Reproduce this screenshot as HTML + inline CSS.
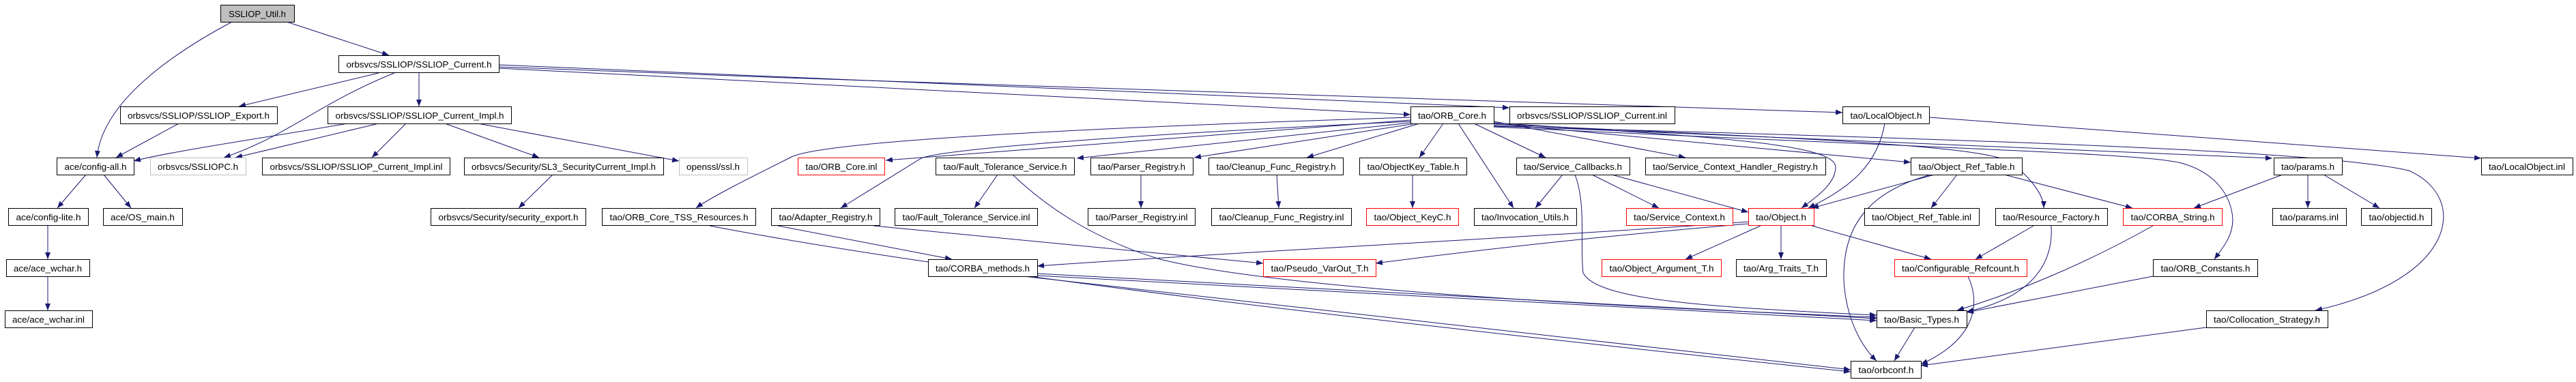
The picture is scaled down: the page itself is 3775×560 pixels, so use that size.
<!DOCTYPE html>
<html><head><meta charset="utf-8"><style>
html,body{margin:0;padding:0;background:#fff;}
svg{display:block;}
text{font-family:"Liberation Sans",sans-serif;font-size:13px;fill:#000;}
</style></head><body>
<svg width="3775" height="560" viewBox="0 0 3775 560" xmlns="http://www.w3.org/2000/svg">
<defs>
<marker id="a" markerUnits="userSpaceOnUse" markerWidth="11" markerHeight="8" refX="10" refY="4" orient="auto">
<path d="M0,0 L10,4 L0,8 z" fill="#191970"/>
</marker>
</defs>
<g fill="none" stroke="#191970" stroke-width="1" marker-end="url(#a)">
<path d="M340,32 C250,80 150,150 142,231"/>
<path d="M420,32 L570,81"/>
<path d="M555,107 L350,156"/>
<path d="M578,107 C470,150 420,200 328,231"/>
<path d="M614,107 L614,156"/>
<path d="M731,100 L2067,168"/>
<path d="M731,95 L2212,158"/>
<path d="M731,98 C1500,130 2400,150 2700,165"/>
<path d="M262,181 L170,231"/>
<path d="M510,181 C400,200 250,222 196,236"/>
<path d="M555,181 L345,231"/>
<path d="M595,181 L545,231"/>
<path d="M652,181 L790,231"/>
<path d="M700,181 L995,236"/>
<path d="M126,256 L84,305"/>
<path d="M152,256 L192,305"/>
<path d="M70,331 L70,380"/>
<path d="M70,405 L70,455"/>
<path d="M810,256 L760,305"/>
<path d="M2067,172 C1500,190 1200,210 1160,230 C1100,260 1040,290 1020,305"/>
<path d="M2067,176 L1298,235"/>
<path d="M2067,178 C1600,200 1380,220 1350,232 L1232,305"/>
<path d="M2067,180 L1578,232"/>
<path d="M2075,181 L1750,231"/>
<path d="M2080,181 L1915,231"/>
<path d="M2115,181 L2080,231"/>
<path d="M2137,181 L2218,305"/>
<path d="M2160,181 L2265,231"/>
<path d="M2189,178 L2470,231"/>
<path d="M2189,180 C2500,200 2690,210 2690,245 C2690,270 2660,290 2640,305"/>
<path d="M2189,181 L2800,238"/>
<path d="M2189,182 C2700,205 2920,215 2950,240 C2985,270 2995,290 2995,305"/>
<path d="M2189,184 L3330,232"/>
<path d="M2189,186 C2900,220 3150,225 3200,240 C3250,255 3270,290 3272,321 C3272,345 3260,360 3245,380"/>
<path d="M2189,185 C2900,205 3400,220 3530,250 C3620,290 3600,410 3393,455"/>
<path d="M1140,331 L1395,380"/>
<path d="M1280,331 L1851,386"/>
<path d="M1462,256 L1428,305"/>
<path d="M1485,257 C1530,300 1600,350 1700,380 C1900,430 2500,455 2750,465"/>
<path d="M1672,256 L1672,305"/>
<path d="M1871,256 L1874,305"/>
<path d="M2070,256 L2070,305"/>
<path d="M2290,256 L2250,305"/>
<path d="M2333,256 L2431,305"/>
<path d="M2362,256 L2562,311"/>
<path d="M2308,256 C2325,300 2315,360 2320,400 C2340,440 2500,450 2750,462"/>
<path d="M2762,181 C2750,250 2700,280 2650,305"/>
<path d="M2827,172 L3636,232"/>
<path d="M2835,256 L2655,305"/>
<path d="M2868,256 L2830,305"/>
<path d="M2937,256 L3125,305"/>
<path d="M2830,256 C2740,280 2700,330 2702,410 C2705,470 2730,510 2750,529"/>
<path d="M2562,325 C2300,345 1800,370 1520,390"/>
<path d="M2562,328 C2300,350 2100,375 2016,386"/>
<path d="M2580,331 L2470,380"/>
<path d="M2610,331 L2610,380"/>
<path d="M2655,331 L2830,380"/>
<path d="M2980,331 L2895,380"/>
<path d="M3006,331 C3010,400 2960,440 2882,457"/>
<path d="M3155,331 C3050,390 2950,430 2868,455"/>
<path d="M3155,405 L2882,458"/>
<path d="M3345,256 L3215,305"/>
<path d="M3382,256 L3382,305"/>
<path d="M3405,256 L3487,305"/>
<path d="M1520,401 L2750,467"/>
<path d="M1520,404 L2750,470"/>
<path d="M1500,405 L2712,542"/>
<path d="M1040,331 C1400,400 2000,470 2712,545"/>
<path d="M2806,480 L2776,529"/>
<path d="M2884,405 C2905,450 2890,500 2815,534"/>
<path d="M3233,480 L2815,536"/>
</g>
<g stroke-width="1">
<rect x="323.5" y="7.5" width="108" height="25" fill="#bfbfbf" stroke="#000"/>
<text x="377" y="25" text-anchor="middle">SSLIOP_Util.h</text>
<rect x="496.5" y="81.5" width="235" height="25" fill="#fff" stroke="#000"/>
<text x="614" y="99" text-anchor="middle" textLength="213" lengthAdjust="spacingAndGlyphs">orbsvcs/SSLIOP/SSLIOP_Current.h</text>
<rect x="176.5" y="156.5" width="230" height="25" fill="#fff" stroke="#000"/>
<text x="291" y="174" text-anchor="middle" textLength="208" lengthAdjust="spacingAndGlyphs">orbsvcs/SSLIOP/SSLIOP_Export.h</text>
<rect x="480.5" y="156.5" width="269" height="25" fill="#fff" stroke="#000"/>
<text x="615" y="174" text-anchor="middle" textLength="247" lengthAdjust="spacingAndGlyphs">orbsvcs/SSLIOP/SSLIOP_Current_Impl.h</text>
<rect x="2067.5" y="156.5" width="122" height="25" fill="#fff" stroke="#000"/>
<text x="2128" y="174" text-anchor="middle" textLength="100" lengthAdjust="spacingAndGlyphs">tao/ORB_Core.h</text>
<rect x="2212.5" y="156.5" width="242" height="25" fill="#fff" stroke="#000"/>
<text x="2333" y="174" text-anchor="middle" textLength="220" lengthAdjust="spacingAndGlyphs">orbsvcs/SSLIOP/SSLIOP_Current.inl</text>
<rect x="2700.5" y="156.5" width="127" height="25" fill="#fff" stroke="#000"/>
<text x="2764" y="174" text-anchor="middle" textLength="105" lengthAdjust="spacingAndGlyphs">tao/LocalObject.h</text>
<rect x="83.5" y="231.5" width="113" height="25" fill="#fff" stroke="#000"/>
<text x="140" y="249" text-anchor="middle" textLength="91" lengthAdjust="spacingAndGlyphs">ace/config-all.h</text>
<rect x="220.5" y="231.5" width="140" height="25" fill="#fff" stroke="#bfbfbf"/>
<text x="290" y="249" text-anchor="middle" textLength="118" lengthAdjust="spacingAndGlyphs">orbsvcs/SSLIOPC.h</text>
<rect x="384.5" y="231.5" width="275" height="25" fill="#fff" stroke="#000"/>
<text x="522" y="249" text-anchor="middle" textLength="253" lengthAdjust="spacingAndGlyphs">orbsvcs/SSLIOP/SSLIOP_Current_Impl.inl</text>
<rect x="680.5" y="231.5" width="292" height="25" fill="#fff" stroke="#000"/>
<text x="826" y="249" text-anchor="middle" textLength="270" lengthAdjust="spacingAndGlyphs">orbsvcs/Security/SL3_SecurityCurrent_Impl.h</text>
<rect x="995.5" y="231.5" width="100" height="25" fill="#fff" stroke="#bfbfbf"/>
<text x="1045" y="249" text-anchor="middle" textLength="78" lengthAdjust="spacingAndGlyphs">openssl/ssl.h</text>
<rect x="1169.5" y="231.5" width="127" height="25" fill="#fff" stroke="#ff0000"/>
<text x="1233" y="249" text-anchor="middle" textLength="105" lengthAdjust="spacingAndGlyphs">tao/ORB_Core.inl</text>
<rect x="1371.5" y="231.5" width="203" height="25" fill="#fff" stroke="#000"/>
<text x="1473" y="249" text-anchor="middle" textLength="181" lengthAdjust="spacingAndGlyphs">tao/Fault_Tolerance_Service.h</text>
<rect x="1598.5" y="231.5" width="150" height="25" fill="#fff" stroke="#000"/>
<text x="1673" y="249" text-anchor="middle" textLength="128" lengthAdjust="spacingAndGlyphs">tao/Parser_Registry.h</text>
<rect x="1771.5" y="231.5" width="197" height="25" fill="#fff" stroke="#000"/>
<text x="1870" y="249" text-anchor="middle" textLength="175" lengthAdjust="spacingAndGlyphs">tao/Cleanup_Func_Registry.h</text>
<rect x="1992.5" y="231.5" width="157" height="25" fill="#fff" stroke="#000"/>
<text x="2071" y="249" text-anchor="middle" textLength="135" lengthAdjust="spacingAndGlyphs">tao/ObjectKey_Table.h</text>
<rect x="2222.5" y="231.5" width="166" height="25" fill="#fff" stroke="#000"/>
<text x="2305" y="249" text-anchor="middle" textLength="144" lengthAdjust="spacingAndGlyphs">tao/Service_Callbacks.h</text>
<rect x="2411.5" y="231.5" width="264" height="25" fill="#fff" stroke="#000"/>
<text x="2543" y="249" text-anchor="middle" textLength="242" lengthAdjust="spacingAndGlyphs">tao/Service_Context_Handler_Registry.h</text>
<rect x="2800.5" y="231.5" width="163" height="25" fill="#fff" stroke="#000"/>
<text x="2882" y="249" text-anchor="middle" textLength="141" lengthAdjust="spacingAndGlyphs">tao/Object_Ref_Table.h</text>
<rect x="3332.5" y="231.5" width="100" height="25" fill="#fff" stroke="#000"/>
<text x="3382" y="249" text-anchor="middle" textLength="78" lengthAdjust="spacingAndGlyphs">tao/params.h</text>
<rect x="3636.5" y="231.5" width="134" height="25" fill="#fff" stroke="#000"/>
<text x="3703" y="249" text-anchor="middle" textLength="112" lengthAdjust="spacingAndGlyphs">tao/LocalObject.inl</text>
<rect x="12.5" y="305.5" width="117" height="25" fill="#fff" stroke="#000"/>
<text x="71" y="323" text-anchor="middle" textLength="95" lengthAdjust="spacingAndGlyphs">ace/config-lite.h</text>
<rect x="151.5" y="305.5" width="116" height="25" fill="#fff" stroke="#000"/>
<text x="209" y="323" text-anchor="middle" textLength="94" lengthAdjust="spacingAndGlyphs">ace/OS_main.h</text>
<rect x="631.5" y="305.5" width="227" height="25" fill="#fff" stroke="#000"/>
<text x="745" y="323" text-anchor="middle" textLength="205" lengthAdjust="spacingAndGlyphs">orbsvcs/Security/security_export.h</text>
<rect x="882.5" y="305.5" width="225" height="25" fill="#fff" stroke="#000"/>
<text x="995" y="323" text-anchor="middle" textLength="203" lengthAdjust="spacingAndGlyphs">tao/ORB_Core_TSS_Resources.h</text>
<rect x="1130.5" y="305.5" width="159" height="25" fill="#fff" stroke="#000"/>
<text x="1210" y="323" text-anchor="middle" textLength="137" lengthAdjust="spacingAndGlyphs">tao/Adapter_Registry.h</text>
<rect x="1311.5" y="305.5" width="209" height="25" fill="#fff" stroke="#000"/>
<text x="1416" y="323" text-anchor="middle" textLength="187" lengthAdjust="spacingAndGlyphs">tao/Fault_Tolerance_Service.inl</text>
<rect x="1594.5" y="305.5" width="157" height="25" fill="#fff" stroke="#000"/>
<text x="1673" y="323" text-anchor="middle" textLength="135" lengthAdjust="spacingAndGlyphs">tao/Parser_Registry.inl</text>
<rect x="1775.5" y="305.5" width="205" height="25" fill="#fff" stroke="#000"/>
<text x="1878" y="323" text-anchor="middle" textLength="183" lengthAdjust="spacingAndGlyphs">tao/Cleanup_Func_Registry.inl</text>
<rect x="2002.5" y="305.5" width="135" height="25" fill="#fff" stroke="#ff0000"/>
<text x="2070" y="323" text-anchor="middle" textLength="113" lengthAdjust="spacingAndGlyphs">tao/Object_KeyC.h</text>
<rect x="2160.5" y="305.5" width="150" height="25" fill="#fff" stroke="#000"/>
<text x="2235" y="323" text-anchor="middle" textLength="128" lengthAdjust="spacingAndGlyphs">tao/Invocation_Utils.h</text>
<rect x="2383.5" y="305.5" width="156" height="25" fill="#fff" stroke="#ff0000"/>
<text x="2461" y="323" text-anchor="middle" textLength="134" lengthAdjust="spacingAndGlyphs">tao/Service_Context.h</text>
<rect x="2562.5" y="305.5" width="96" height="25" fill="#fff" stroke="#ff0000"/>
<text x="2610" y="323" text-anchor="middle" textLength="74" lengthAdjust="spacingAndGlyphs">tao/Object.h</text>
<rect x="2732.5" y="305.5" width="168" height="25" fill="#fff" stroke="#000"/>
<text x="2816" y="323" text-anchor="middle" textLength="146" lengthAdjust="spacingAndGlyphs">tao/Object_Ref_Table.inl</text>
<rect x="2924.5" y="305.5" width="164" height="25" fill="#fff" stroke="#000"/>
<text x="3006" y="323" text-anchor="middle" textLength="142" lengthAdjust="spacingAndGlyphs">tao/Resource_Factory.h</text>
<rect x="3111.5" y="305.5" width="145" height="25" fill="#fff" stroke="#ff0000"/>
<text x="3184" y="323" text-anchor="middle" textLength="123" lengthAdjust="spacingAndGlyphs">tao/CORBA_String.h</text>
<rect x="3330.5" y="305.5" width="108" height="25" fill="#fff" stroke="#000"/>
<text x="3384" y="323" text-anchor="middle" textLength="86" lengthAdjust="spacingAndGlyphs">tao/params.inl</text>
<rect x="3460.5" y="305.5" width="103" height="25" fill="#fff" stroke="#000"/>
<text x="3512" y="323" text-anchor="middle" textLength="81" lengthAdjust="spacingAndGlyphs">tao/objectid.h</text>
<rect x="9.5" y="380.5" width="122" height="25" fill="#fff" stroke="#000"/>
<text x="70" y="398" text-anchor="middle" textLength="100" lengthAdjust="spacingAndGlyphs">ace/ace_wchar.h</text>
<rect x="1360.5" y="380.5" width="160" height="25" fill="#fff" stroke="#000"/>
<text x="1440" y="398" text-anchor="middle" textLength="138" lengthAdjust="spacingAndGlyphs">tao/CORBA_methods.h</text>
<rect x="1851.5" y="380.5" width="165" height="25" fill="#fff" stroke="#ff0000"/>
<text x="1934" y="398" text-anchor="middle" textLength="143" lengthAdjust="spacingAndGlyphs">tao/Pseudo_VarOut_T.h</text>
<rect x="2347.5" y="380.5" width="175" height="25" fill="#fff" stroke="#ff0000"/>
<text x="2435" y="398" text-anchor="middle" textLength="153" lengthAdjust="spacingAndGlyphs">tao/Object_Argument_T.h</text>
<rect x="2544.5" y="380.5" width="132" height="25" fill="#fff" stroke="#000"/>
<text x="2610" y="398" text-anchor="middle" textLength="110" lengthAdjust="spacingAndGlyphs">tao/Arg_Traits_T.h</text>
<rect x="2776.5" y="380.5" width="194" height="25" fill="#fff" stroke="#ff0000"/>
<text x="2873" y="398" text-anchor="middle" textLength="172" lengthAdjust="spacingAndGlyphs">tao/Configurable_Refcount.h</text>
<rect x="3155.5" y="380.5" width="153" height="25" fill="#fff" stroke="#000"/>
<text x="3232" y="398" text-anchor="middle" textLength="131" lengthAdjust="spacingAndGlyphs">tao/ORB_Constants.h</text>
<rect x="7.5" y="455.5" width="128" height="25" fill="#fff" stroke="#000"/>
<text x="71" y="473" text-anchor="middle" textLength="106" lengthAdjust="spacingAndGlyphs">ace/ace_wchar.inl</text>
<rect x="2750.5" y="455.5" width="132" height="25" fill="#fff" stroke="#000"/>
<text x="2816" y="473" text-anchor="middle" textLength="110" lengthAdjust="spacingAndGlyphs">tao/Basic_Types.h</text>
<rect x="3233.5" y="455.5" width="178" height="25" fill="#fff" stroke="#000"/>
<text x="3322" y="473" text-anchor="middle" textLength="156" lengthAdjust="spacingAndGlyphs">tao/Collocation_Strategy.h</text>
<rect x="2712.5" y="529.5" width="103" height="25" fill="#fff" stroke="#000"/>
<text x="2764" y="547" text-anchor="middle" textLength="81" lengthAdjust="spacingAndGlyphs">tao/orbconf.h</text>
</g>
</svg>
</body></html>
